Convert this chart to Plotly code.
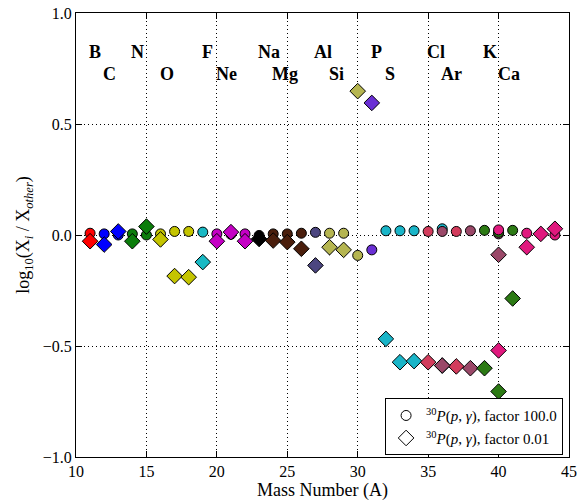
import plotly.graph_objects as go

# ---- data ----
elements = ["B", "C", "N", "O", "F", "Ne", "Na", "Mg", "Al", "Si", "P", "S", "Cl", "Ar", "K", "Ca"]
element_colors = ["#ff0000", "#0000ff", "#0b7d0b", "#c4c400", "#19b9c4", "#c400c4", "#000000",
                  "#4a1e0c", "#4c4680", "#b5b550", "#6a2fd4", "#1ab5c8", "#d23c5c", "#9a4868",
                  "#2c7a14", "#e0197e"]
label_mass = [11, 12, 14, 16, 19, 20, 23, 24, 27, 28, 31, 32, 35, 36, 39, 40]

iso_element = ["B", "C", "C", "N", "N", "O", "O", "O", "F", "Ne", "Ne", "Ne", "Na",
               "Mg", "Mg", "Mg", "Al", "Si", "Si", "Si", "P", "S", "S", "S", "S",
               "Cl", "Cl", "Ar", "Ar", "Ar", "K", "K", "K", "Ca", "Ca", "Ca", "Ca"]
iso_mass = [11, 12, 13, 14, 15, 16, 17, 18, 19, 20, 21, 22, 23,
            24, 25, 26, 27, 28, 29, 30, 31, 32, 33, 34, 36,
            35, 37, 36, 38, 40, 39, 40, 41, 40, 42, 43, 44]
ratio_factor_100 = [0.008, 0.005, 0.0, 0.005, 0.0, 0.005, 0.016, 0.016, 0.013, 0.005, 0.003, 0.005, -0.002,
                    0.005, 0.005, 0.008, 0.012, 0.008, 0.008, -0.092, -0.067, 0.019, 0.019, 0.019, 0.028,
                    0.016, 0.016, 0.016, 0.019, 0.005, 0.021, 0.012, 0.021, 0.023, 0.008, 0.005, 0.0]
ratio_factor_001 = [-0.028, -0.043, 0.016, -0.028, 0.038, -0.020, -0.185, -0.190, -0.122, -0.028, 0.013, -0.028, -0.018,
                    -0.025, -0.032, -0.062, -0.137, -0.055, -0.067, 0.648, 0.595, -0.468, -0.573, -0.568, -0.588,
                    -0.573, -0.592, -0.588, -0.600, -0.089, -0.600, -0.705, -0.286, -0.520, -0.055, 0.005, 0.028]

x_ticks = [10, 15, 20, 25, 30, 35, 40, 45]
y_ticks = [-1.0, -0.5, 0.0, 0.5, 1.0]

FONT = "Liberation Serif"

fig = go.Figure()

def rows_for(el):
    return [i for i, e in enumerate(iso_element) if e == el]

# circles (factor 100.0)
for el, col in zip(elements, element_colors):
    idx = rows_for(el)
    fig.add_trace(go.Scatter(
        x=[iso_mass[i] for i in idx], y=[ratio_factor_100[i] for i in idx],
        mode="markers", showlegend=False,
        marker=dict(symbol="circle", size=10, color=col, line=dict(color="black", width=1)),
    ))
# diamonds (factor 0.01)
for el, col in zip(elements, element_colors):
    idx = rows_for(el)
    fig.add_trace(go.Scatter(
        x=[iso_mass[i] for i in idx], y=[ratio_factor_001[i] for i in idx],
        mode="markers", showlegend=False,
        marker=dict(symbol="diamond", size=12, color=col, line=dict(color="black", width=1)),
    ))

# legend entries
fig.add_trace(go.Scatter(x=[None], y=[None], mode="markers",
                         name="<sup>30</sup><i>P</i>(<i>p</i>, <i>γ</i>), factor 100.0",
                         marker=dict(symbol="circle", size=10, color="white", line=dict(color="black", width=1))))
fig.add_trace(go.Scatter(x=[None], y=[None], mode="markers",
                         name="<sup>30</sup><i>P</i>(<i>p</i>, <i>γ</i>), factor 0.01",
                         marker=dict(symbol="diamond", size=12, color="white", line=dict(color="black", width=1))))

# element labels, alternating rows
for k, (el, m) in enumerate(zip(elements, label_mass)):
    fig.add_annotation(x=m, y=0.823 if k % 2 == 0 else 0.726, text="<b>" + el + "</b>",
                       showarrow=False, xanchor="left", yanchor="middle", xshift=-3,
                       font=dict(family=FONT, size=18, color="black"))

axis_common = dict(showline=True, linecolor="black", linewidth=1.2, mirror="ticks",
                   ticks="inside", ticklen=6, tickcolor="black", automargin=False,
                   showgrid=True, gridcolor="black", griddash="1px,3px", gridwidth=1,
                   zeroline=False, tickfont=dict(family=FONT, size=16, color="black"))

fig.update_xaxes(range=[10, 45], tickvals=x_ticks, ticktext=[str(v) for v in x_ticks],
                 title=dict(text="Mass Number (A)", font=dict(family=FONT, size=18, color="black"), standoff=0),
                 **axis_common)
fig.update_yaxes(range=[-1.0, 1.0], tickvals=y_ticks,
                 ticktext=["−1.0", "−0.5", "0.0", "0.5", "1.0"],
                 title=dict(text="log<sub>10</sub>(X<sub><i>i</i></sub> / X<sub><i>other</i></sub>)",
                            font=dict(family=FONT, size=18, color="black"), standoff=8),
                 **axis_common)

fig.update_layout(
    width=581, height=502,
    margin=dict(l=76, r=12, t=13, b=45),
    plot_bgcolor="white", paper_bgcolor="white",
    font=dict(family=FONT, color="black"),
    legend=dict(x=0.988, y=0.004, xanchor="right", yanchor="bottom",
                bgcolor="white", bordercolor="black", borderwidth=1,
                font=dict(family=FONT, size=15, color="black"),
                itemwidth=30, tracegroupgap=0),
)

fig.write_html("out.html", config={"displayModeBar": False},
               post_script="document.body.style.margin='0px';")
